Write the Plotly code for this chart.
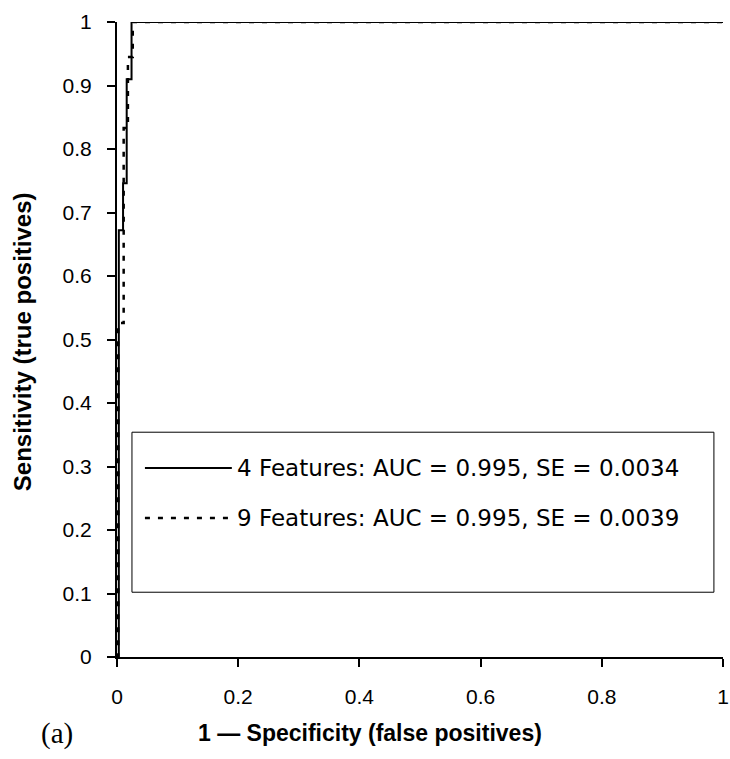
import plotly.graph_objects as go

# ROC data
fpr_4 = [0, 0.003, 0.010, 0.016, 0.024, 1.0]
tpr_4 = [0, 0.672, 0.746, 0.910, 1.0, 1.0]
fpr_9 = [0, 0.002, 0.011, 0.018, 0.026, 1.0]
tpr_9 = [0, 0.526, 0.833, 0.945, 1.0, 1.0]

label_4 = "4 Features: AUC = 0.995, SE = 0.0034"
label_9 = "9 Features: AUC = 0.995, SE = 0.0039"

x_ticks = [0, 0.2, 0.4, 0.6, 0.8, 1]
x_tick_text = ["0", "0.2", "0.4", "0.6", "0.8", "1"]
y_ticks = [0, 0.1, 0.2, 0.3, 0.4, 0.5, 0.6, 0.7, 0.8, 0.9, 1]
y_tick_text = ["0", "0.1", "0.2", "0.3", "0.4", "0.5", "0.6", "0.7", "0.8", "0.9", "1"]

FONT = "Liberation Sans, Arial, sans-serif"
LEG_FONT = "DejaVu Sans, Liberation Sans, sans-serif"
DOT = "5px,8px"

fig = go.Figure()
fig.add_trace(go.Scatter(x=fpr_4, y=tpr_4, mode="lines", line=dict(color="black", width=2, shape="hv"),
                         name=label_4, showlegend=False, cliponaxis=False))
fig.add_trace(go.Scatter(x=fpr_9, y=tpr_9, mode="lines", line=dict(color="black", width=2.5, shape="hv", dash=DOT),
                         name=label_9, showlegend=False, cliponaxis=False))

fig.update_layout(
    width=730, height=759,
    margin=dict(l=117, r=7, t=22, b=102, autoexpand=False),
    paper_bgcolor="white", plot_bgcolor="white",
    font=dict(family=FONT, size=20, color="black"),
    xaxis=dict(range=[0, 1], tickvals=x_ticks, ticktext=x_tick_text, showgrid=False, zeroline=False,
               showline=True, linecolor="black", linewidth=2, ticks="outside", ticklen=8, tickwidth=2,
               tickcolor="black", ticklabelstandoff=12, tickfont=dict(family=FONT, size=21), automargin=False),
    yaxis=dict(range=[0, 1], tickvals=y_ticks, ticktext=y_tick_text, showgrid=False, zeroline=False,
               showline=True, linecolor="black", linewidth=2, ticks="outside", ticklen=8, tickwidth=2,
               tickcolor="black", ticklabelstandoff=11, tickfont=dict(family=FONT, size=21), automargin=False),
)

# legend box drawn manually
lx0, lx1, ly0, ly1 = 0.0247, 0.985, 0.102, 0.354
fig.add_shape(type="rect", xref="paper", yref="paper", x0=lx0, x1=lx1, y0=ly0, y1=ly1,
              line=dict(color="black", width=1), fillcolor="white", layer="above")
rows = [(label_4, 0.2976, None, 2), (label_9, 0.219, DOT, 2.5)]
for text, yy, dash, w in rows:
    fig.add_shape(type="line", xref="paper", yref="paper", x0=0.0461, x1=0.1895, y0=yy, y1=yy,
                  line=dict(color="black", width=w, dash=dash), layer="above")
    fig.add_annotation(xref="paper", yref="paper", x=0.195, y=yy, text=text, showarrow=False,
                       xanchor="left", yanchor="middle", font=dict(family=LEG_FONT, size=23))

fig.add_annotation(xref="paper", yref="paper", x=0.418, y=-0.12, text="<b>1 — Specificity (false positives)</b>",
                   showarrow=False, xanchor="center", yanchor="middle", font=dict(family=FONT, size=23))
fig.add_annotation(xref="paper", yref="paper", x=-0.1565, y=0.496, text="<b>Sensitivity (true positives)</b>",
                   showarrow=False, textangle=-90, xanchor="center", yanchor="middle", font=dict(family=FONT, size=24))
fig.add_annotation(xref="paper", yref="paper", x=-0.0988, y=-0.12, text="(a)", showarrow=False,
                   xanchor="center", yanchor="middle", font=dict(family="Liberation Serif, Times New Roman", size=29))

fig.write_html("out.html", post_script="document.body.style.margin='0';", config={"displayModeBar": False})
